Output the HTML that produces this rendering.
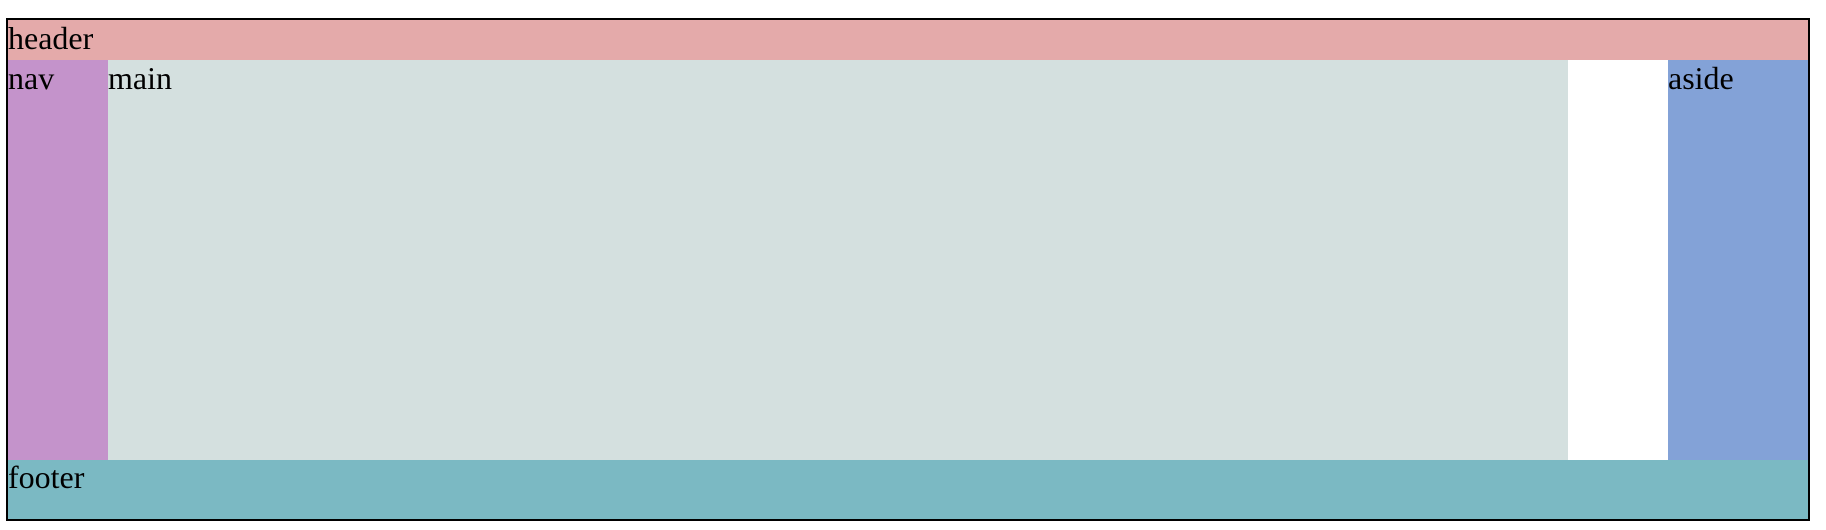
<!DOCTYPE html>
<html><head><meta charset="utf-8"><style>
html,body{margin:0;padding:0;background:#fff;width:1826px;height:530px;overflow:hidden}
div{position:absolute;box-sizing:border-box}
.t{position:absolute;font-family:"Liberation Serif",serif;font-size:32px;line-height:35px;color:#000;white-space:nowrap}
</style></head><body>
<div style="left:6px;top:18px;width:1804px;height:503px;border:2px solid #000"></div>
<div style="left:8px;top:20px;width:1800px;height:40px;background:#e4aaaa"><span class="t" style="left:0;top:1px">header</span></div>
<div style="left:8px;top:60px;width:100px;height:400px;background:#c493cb"><span class="t" style="left:0;top:1px">nav</span></div>
<div style="left:108px;top:60px;width:1460px;height:400px;background:#d4e0df"><span class="t" style="left:0;top:1px">main</span></div>
<div style="left:1668px;top:60px;width:140px;height:400px;background:#83a2d7"><span class="t" style="left:0;top:1px">aside</span></div>
<div style="left:8px;top:460px;width:1800px;height:59px;background:#7bb9c3"><span class="t" style="left:0;top:0px">footer</span></div>
</body></html>
